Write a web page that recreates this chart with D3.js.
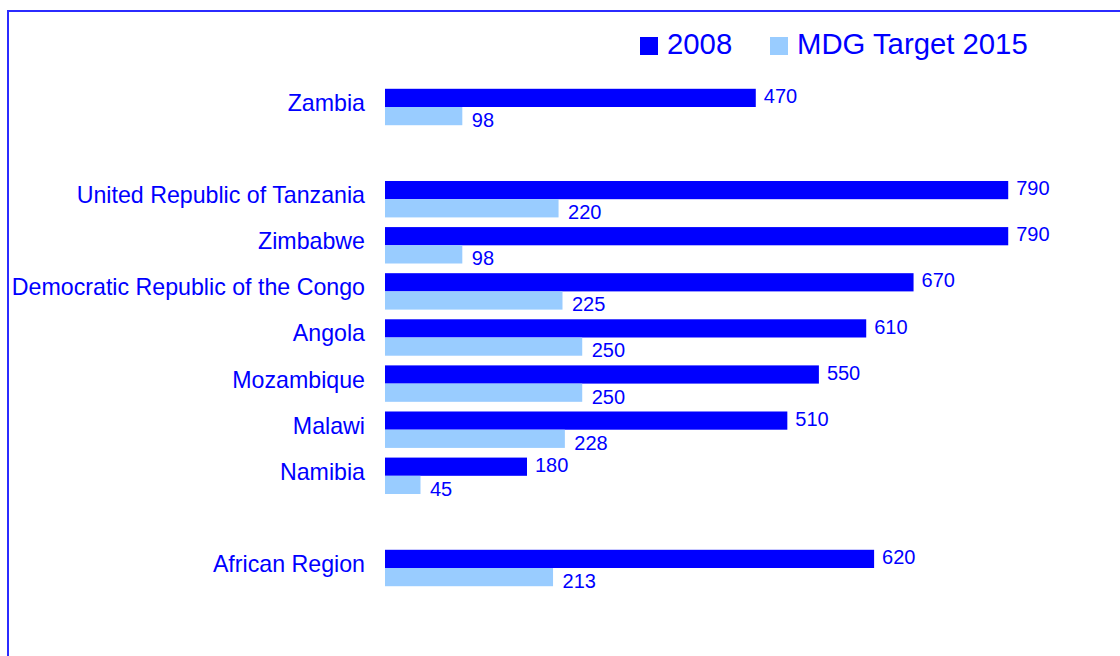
<!DOCTYPE html>
<html>
<head>
<meta charset="utf-8">
<script src="https://cdn.jsdelivr.net/npm/d3@7/dist/d3.min.js"></script>
<style>
  html, body { margin: 0; padding: 0; background: #fff; overflow: hidden; }
  svg { display: block; font-family: "Liberation Sans", Arial, sans-serif; }
</style>
</head>
<body>
<svg id="chart" width="1120" height="656"></svg>
<script>
// Maternal mortality ratio, 2008 vs MDG target for 2015
const categories = [
  "Zambia",
  "United Republic of Tanzania",
  "Zimbabwe",
  "Democratic Republic of the Congo",
  "Angola",
  "Mozambique",
  "Malawi",
  "Namibia",
  "African Region"
];
const values2008 = [470, 790, 790, 670, 610, 550, 510, 180, 620];
const target2015 = [98, 220, 98, 225, 250, 250, 228, 45, 213];
const seriesNames = ["2008", "MDG Target 2015"];
const seriesColors = ["#0000ff", "#99ccff"];

// Empty slots separate Zambia and the regional average from the rest
const gapAfter = new Set([0, 7]);
const slots = [];
categories.forEach((c, i) => {
  slots.push(c);
  if (gapAfter.has(i)) slots.push("__gap" + i);
});

const svg = d3.select("#chart");
const textColor = "#0000ff";

// Chart frame
svg.append("rect")
  .attr("x", 8).attr("y", 11)
  .attr("width", 1200).attr("height", 700)
  .attr("fill", "none")
  .attr("stroke", "#2b2bff")
  .attr("stroke-width", 2);

const step = 46.1;
const y0 = 83.95;
const pad = 0.21;
const y = d3.scaleBand()
  .domain(slots)
  .range([y0, y0 + step * slots.length])
  .paddingInner(pad)
  .paddingOuter(pad / 2);

const inner = d3.scaleBand()
  .domain(seriesNames)
  .range([0, y.bandwidth()]);

const x = d3.scaleLinear().domain([0, 900]).range([385, 1095]);

const rows = categories.map((c, i) => ({
  name: c,
  vals: [values2008[i], target2015[i]]
}));

const g = svg.append("g");

const row = g.selectAll("g.row")
  .data(rows)
  .join("g")
  .attr("class", "row")
  .attr("transform", d => `translate(0,${y(d.name)})`);

row.selectAll("rect")
  .data(d => d.vals.map((v, k) => ({ v, k })))
  .join("rect")
  .attr("x", x(0))
  .attr("y", d => inner(seriesNames[d.k]))
  .attr("width", d => x(d.v) - x(0))
  .attr("height", inner.bandwidth())
  .attr("fill", d => seriesColors[d.k]);

// Value labels: 2008 sits just above the split, target just below
const split = inner.bandwidth();
row.selectAll("text.val")
  .data(d => d.vals.map((v, k) => ({ v, k })))
  .join("text")
  .attr("class", "val")
  .attr("x", d => x(d.v) + (d.k === 0 ? 8 : 9.5))
  .attr("y", d => d.k === 0 ? split - 4 : split + 20)
  .attr("fill", textColor)
  .attr("font-size", 20)
  .text(d => d.v);

// Category labels
row.append("text")
  .attr("x", 365)
  .attr("y", split + 4)
  .attr("text-anchor", "end")
  .attr("fill", textColor)
  .attr("font-size", 23.2)
  .text(d => d.name);

// Legend
const legend = svg.append("g");
const legendX = [640, 770];
seriesNames.forEach((name, k) => {
  legend.append("rect")
    .attr("x", legendX[k]).attr("y", 37)
    .attr("width", 18).attr("height", 18)
    .attr("fill", seriesColors[k]);
  legend.append("text")
    .attr("x", legendX[k] + 27).attr("y", 54)
    .attr("fill", textColor)
    .attr("font-size", 29.3)
    .text(name);
});
</script>
</body>
</html>
